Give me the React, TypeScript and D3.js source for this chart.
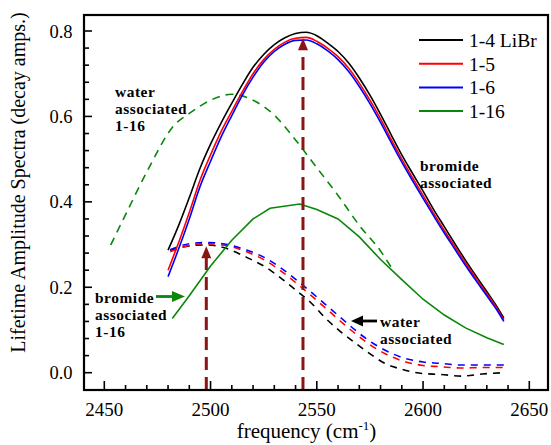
import React from "react";
import * as d3 from "d3";

const W = 551;
const H = 445;

// ---- data ----
const FREQ_SOLID = [2480, 2485, 2490, 2495, 2500, 2505, 2510, 2515, 2520, 2525, 2530, 2535, 2540, 2545, 2550, 2555, 2560, 2565, 2570, 2575, 2580, 2585, 2590, 2595, 2600, 2605, 2610, 2615, 2620, 2625, 2630, 2635, 2638];
const BLACK_SOLID = [0.287, 0.345, 0.41, 0.478, 0.535, 0.585, 0.631, 0.675, 0.715, 0.745, 0.768, 0.784, 0.794, 0.797, 0.789, 0.772, 0.752, 0.725, 0.69, 0.65, 0.605, 0.557, 0.51, 0.467, 0.425, 0.382, 0.342, 0.302, 0.263, 0.226, 0.19, 0.153, 0.128];
const RED_SOLID = [0.24, 0.305, 0.375, 0.45, 0.51, 0.565, 0.612, 0.658, 0.7, 0.733, 0.757, 0.774, 0.783, 0.785, 0.776, 0.76, 0.74, 0.713, 0.678, 0.638, 0.594, 0.546, 0.5, 0.457, 0.415, 0.373, 0.333, 0.295, 0.257, 0.22, 0.185, 0.149, 0.124];
const BLUE_SOLID = [0.225, 0.29, 0.36, 0.435, 0.495, 0.552, 0.602, 0.65, 0.692, 0.727, 0.752, 0.769, 0.778, 0.779, 0.77, 0.754, 0.733, 0.705, 0.67, 0.63, 0.586, 0.539, 0.493, 0.45, 0.408, 0.367, 0.327, 0.289, 0.251, 0.215, 0.18, 0.145, 0.12];

const FREQ_GREEN_SOLID = [2482, 2490, 2500, 2510, 2520, 2528, 2542, 2550, 2560, 2570, 2580, 2590, 2600, 2610, 2620, 2630, 2638];
const GREEN_SOLID = [0.127, 0.18, 0.25, 0.31, 0.36, 0.385, 0.395, 0.382, 0.36, 0.318, 0.265, 0.218, 0.172, 0.135, 0.105, 0.082, 0.066];

const FREQ_GREEN_DASH = [2453, 2460, 2470, 2483, 2490, 2500, 2510, 2520, 2530, 2540, 2550, 2560, 2570, 2580, 2585];
const GREEN_DASH = [0.299, 0.37, 0.47, 0.58, 0.607, 0.638, 0.652, 0.638, 0.603, 0.545, 0.48, 0.415, 0.345, 0.285, 0.247];

const FREQ_DASH = [2481, 2490, 2498, 2508, 2517, 2526, 2534, 2541, 2547, 2554, 2561, 2568, 2574, 2582, 2590, 2600, 2608, 2618, 2628, 2638];
const BLACK_DASH = [0.287, 0.297, 0.299, 0.29, 0.27, 0.247, 0.218, 0.19, 0.165, 0.128, 0.097, 0.07, 0.048, 0.022, 0.008, -0.002, -0.004, -0.008, -0.003, 0.0];
const RED_DASH = [0.283, 0.298, 0.302, 0.297, 0.283, 0.262, 0.235, 0.207, 0.182, 0.152, 0.121, 0.092, 0.069, 0.045, 0.028, 0.017, 0.014, 0.011, 0.012, 0.012];
const BLUE_DASH = [0.288, 0.302, 0.305, 0.3, 0.287, 0.268, 0.242, 0.215, 0.19, 0.16, 0.13, 0.1, 0.077, 0.053, 0.036, 0.025, 0.022, 0.018, 0.018, 0.018];

const LEGEND_LABELS = ["1-4 LiBr", "1-5", "1-6", "1-16"];
const X_TICKS = [2450, 2500, 2550, 2600, 2650];
const X_MINOR = [2440, 2460, 2470, 2480, 2490, 2510, 2520, 2530, 2540, 2560, 2570, 2580, 2590, 2610, 2620, 2630, 2640, 2660];
const Y_TICKS = [0.0, 0.2, 0.4, 0.6, 0.8];
const Y_MINOR = [-0.04, 0.04, 0.08, 0.12, 0.16, 0.24, 0.28, 0.32, 0.36, 0.44, 0.48, 0.52, 0.56, 0.64, 0.68, 0.72, 0.76];

const ANNOTATIONS = [
  { lines: ["water", "associated", "1-16"], x: 115, y: 96.5 },
  { lines: ["bromide", "associated"], x: 420, y: 171 },
  { lines: ["bromide", "associated", "1-16"], x: 95, y: 303 },
  { lines: ["water", "associated"], x: 380, y: 326.5 },
];

// arrow markers (frequency, tip value)
const PEAK_ARROWS = [
  { f: 2498, v: 0.296 },
  { f: 2543.5, v: 0.783 },
];

const BLACK = "#000000";
const RED = "#ff0000";
const BLUE = "#0000ff";
const GREEN = "#0a870a";
const DARKRED = "#8b1515";
const FONT = '"Liberation Serif", "Times New Roman", Times, "DejaVu Serif", serif';

export default function App() {
  const frame = { left: 84, right: 548, top: 15, bottom: 390 };
  const x = d3.scaleLinear().domain([2450, 2650]).range([104.3, 529.3]);
  const y = d3.scaleLinear().domain([0, 0.8]).range([372.7, 31]);

  const mk = (fs: number[], vs: number[], curve = d3.curveMonotoneX) =>
    d3
      .line<number>()
      .x((_, i) => x(fs[i]))
      .y((v) => y(v))
      .curve(curve)(vs) || "";

  const series = [
    { d: mk(FREQ_DASH, BLACK_DASH), c: BLACK, dash: "7,6" },
    { d: mk(FREQ_DASH, RED_DASH), c: RED, dash: "7,6" },
    { d: mk(FREQ_DASH, BLUE_DASH), c: BLUE, dash: "7,6" },
    { d: mk(FREQ_GREEN_DASH, GREEN_DASH), c: GREEN, dash: "8,6" },
    { d: mk(FREQ_GREEN_SOLID, GREEN_SOLID, d3.curveLinear), c: GREEN, dash: undefined },
    { d: mk(FREQ_SOLID, BLACK_SOLID), c: BLACK, dash: undefined },
    { d: mk(FREQ_SOLID, RED_SOLID), c: RED, dash: undefined },
    { d: mk(FREQ_SOLID, BLUE_SOLID), c: BLUE, dash: undefined },
  ];

  const legendColors = [BLACK, RED, BLUE, GREEN];
  const legendY = [40, 63.7, 87.4, 111];

  return (
    <svg
      width={W}
      height={H}
      viewBox={`0 0 ${W} ${H}`}
      style={{ position: "absolute", left: 0, top: 0, background: "#fff", fontFamily: FONT }}
    >
      <rect x={0} y={0} width={W} height={H} fill="#fff" />
      <defs>
        <clipPath id="plotclip">
          <rect x={frame.left} y={frame.top} width={frame.right - frame.left} height={frame.bottom - frame.top} />
        </clipPath>
      </defs>

      {/* data lines */}
      <g clipPath="url(#plotclip)">
        {series.map((s, i) => (
          <path key={i} d={s.d} fill="none" stroke={s.c} strokeWidth={1.6} strokeDasharray={s.dash} />
        ))}

        {/* vertical dashed arrows */}
        {PEAK_ARROWS.map((a, i) => {
          const px = x(a.f);
          const tip = y(a.v);
          return (
            <g key={i}>
              <line
                x1={px}
                x2={px}
                y1={frame.bottom}
                y2={tip + 10}
                stroke={DARKRED}
                strokeWidth={3}
                strokeDasharray="13,7"
              />
              <path d={`M${px},${tip} L${px - 5},${tip + 12} L${px + 5},${tip + 12} Z`} fill={DARKRED} />
            </g>
          );
        })}
      </g>

      {/* frame */}
      <rect
        x={frame.left}
        y={frame.top}
        width={frame.right - frame.left}
        height={frame.bottom - frame.top}
        fill="none"
        stroke="#000"
        strokeWidth={2.2}
      />

      <g style={{ fontFamily: FONT }}>
        {/* x ticks */}
        {X_TICKS.map((t) => (
          <g key={"xt" + t}>
            <line x1={x(t)} x2={x(t)} y1={frame.bottom} y2={frame.bottom - 9} stroke="#000" strokeWidth={1.6} />
            <text x={x(t)} y={416} textAnchor="middle" fontSize={19}>
              {t}
            </text>
          </g>
        ))}
        {X_MINOR.filter((t) => x(t) > frame.left + 2 && x(t) < frame.right - 2).map((t) => (
          <line key={"xm" + t} x1={x(t)} x2={x(t)} y1={frame.bottom} y2={frame.bottom - 5} stroke="#000" strokeWidth={1.6} />
        ))}

        {/* y ticks */}
        {Y_TICKS.map((t) => (
          <g key={"yt" + t}>
            <line x1={frame.left} x2={frame.left + 8} y1={y(t)} y2={y(t)} stroke="#000" strokeWidth={1.6} />
            <text x={72.5} y={y(t) + 6.5} textAnchor="end" fontSize={18.5}>
              {t.toFixed(1)}
            </text>
          </g>
        ))}
        {Y_MINOR.filter((t) => y(t) > frame.top + 2 && y(t) < frame.bottom - 2).map((t) => (
          <line key={"ym" + t} x1={frame.left} x2={frame.left + 5} y1={y(t)} y2={y(t)} stroke="#000" strokeWidth={1.6} />
        ))}

        {/* axis titles */}
        <text x={306.5} y={438} textAnchor="middle" fontSize={21}>
          frequency (cm
          <tspan fontSize={13} dy={-8}>-1</tspan>
          <tspan dy={8}>)</tspan>
        </text>
        <text transform={`translate(25,182.5) rotate(-90)`} textAnchor="middle" fontSize={20}>
          Lifetime Amplitude Spectra (decay amps.)
        </text>

        {/* legend */}
        {LEGEND_LABELS.map((l, i) => (
          <g key={l}>
            <line x1={419} x2={463} y1={legendY[i]} y2={legendY[i]} stroke={legendColors[i]} strokeWidth={2} />
            <text x={469} y={legendY[i] + 6.8} fontSize={19.5}>
              {l}
            </text>
          </g>
        ))}

        {/* annotations */}
        {ANNOTATIONS.map((a, i) => (
          <text key={i} x={a.x} y={a.y} fontWeight="bold" fontSize={15.4} letterSpacing={0.55}>
            {a.lines.map((ln, j) => (
              <tspan key={j} x={a.x} dy={j === 0 ? 0 : 17.2}>
                {ln}
              </tspan>
            ))}
          </text>
        ))}
      </g>

      {/* green arrow */}
      <line x1={156} x2={174} y1={296.5} y2={296.5} stroke={GREEN} strokeWidth={2.8} />
      <path d="M185,296.5 L172,291 L172,302 Z" fill={GREEN} />

      {/* black arrow */}
      <line x1={377} x2={361} y1={321} y2={321} stroke="#000" strokeWidth={2.8} />
      <path d="M351,321 L363,315.5 L363,326.5 Z" fill="#000" />
    </svg>
  );
}
